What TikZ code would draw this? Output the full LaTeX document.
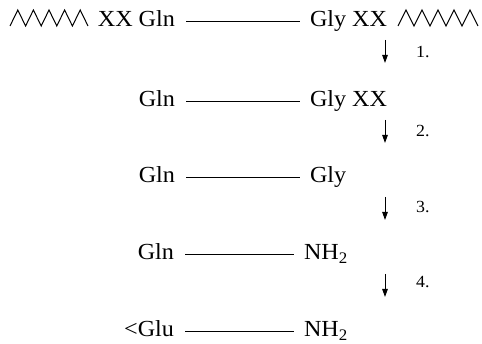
\documentclass[tikz,border=0pt]{standalone}
\usepackage{fontspec}
\setmainfont{Liberation Serif}[FakeStretch=1.05]
\usetikzlibrary{arrows.meta}
\tikzset{
  res/.style={inner sep=0pt, outer sep=0pt, font=\fontsize{23}{27}\selectfont, text height=15pt, text depth=4pt},
  bond/.style={line width=1pt, shorten <=11pt, shorten >=10pt},
  zz/.style={line width=1pt, line join=miter},
  steparrow/.style={line width=1pt, -{Triangle[length=8pt,width=5.5pt]}},
  steplabel/.style={inner sep=0pt, anchor=base west, font=\fontsize{17}{20}\selectfont}
}
\begin{document}
\begin{tikzpicture}[x=1pt,y=-1pt]
\useasboundingbox (0,0) rectangle (482,344);
% row 1
\node[res, anchor=base east] (l1) at (175,27) {XX Gln};
\node[res, anchor=base west] (r1) at (310,27) {Gly XX};
\draw[bond] (l1.east) -- (r1.west);
\coordinate (zl) at (10,26);
\coordinate (zr) at (398,26);
\draw[zz] (zl) \foreach \i in {1,...,5} { -- ++(7.8,-16) -- ++(7.8,16) };
\draw[zz] (zr) \foreach \i in {1,...,5} { -- ++(8,-16) -- ++(8,16) };
% row 2
\node[res, anchor=base east] (l2) at (175,107) {Gln};
\node[res, anchor=base west] (r2) at (310,107) {Gly XX};
\draw[bond] (l2.east) -- (r2.west);
% row 3
\node[res, anchor=base east] (l3) at (175,183) {Gln};
\node[res, anchor=base west] (r3) at (310,183) {Gly};
\draw[bond] (l3.east) -- (r3.west);
% row 4
\node[res, anchor=base east] (l4) at (174,260) {Gln};
\node[res, anchor=base west] (r4) at (304,260) {NH\textsubscript{2}};
\draw[bond] (l4.east) -- (r4.west);
% row 5
\node[res, anchor=base east] (l5) at (174,337) {<Glu};
\node[res, anchor=base west] (r5) at (304,337) {NH\textsubscript{2}};
\draw[bond] (l5.east) -- (r5.west);
% arrows
\coordinate (a1s) at (385,40);  \coordinate (a1e) at (385,63);
\coordinate (a2s) at (385,120); \coordinate (a2e) at (385,143);
\coordinate (a3s) at (385,197); \coordinate (a3e) at (385,220);
\coordinate (a4s) at (385,274); \coordinate (a4e) at (385,297);
\draw[steparrow] (a1s) -- (a1e);
\draw[steparrow] (a2s) -- (a2e);
\draw[steparrow] (a3s) -- (a3e);
\draw[steparrow] (a4s) -- (a4e);
\node[steplabel] (n1) at (416,58) {1.};
\node[steplabel] (n2) at (416,137) {2.};
\node[steplabel] (n3) at (416,213) {3.};
\node[steplabel] (n4) at (416,288) {4.};
\end{tikzpicture}
\end{document}
